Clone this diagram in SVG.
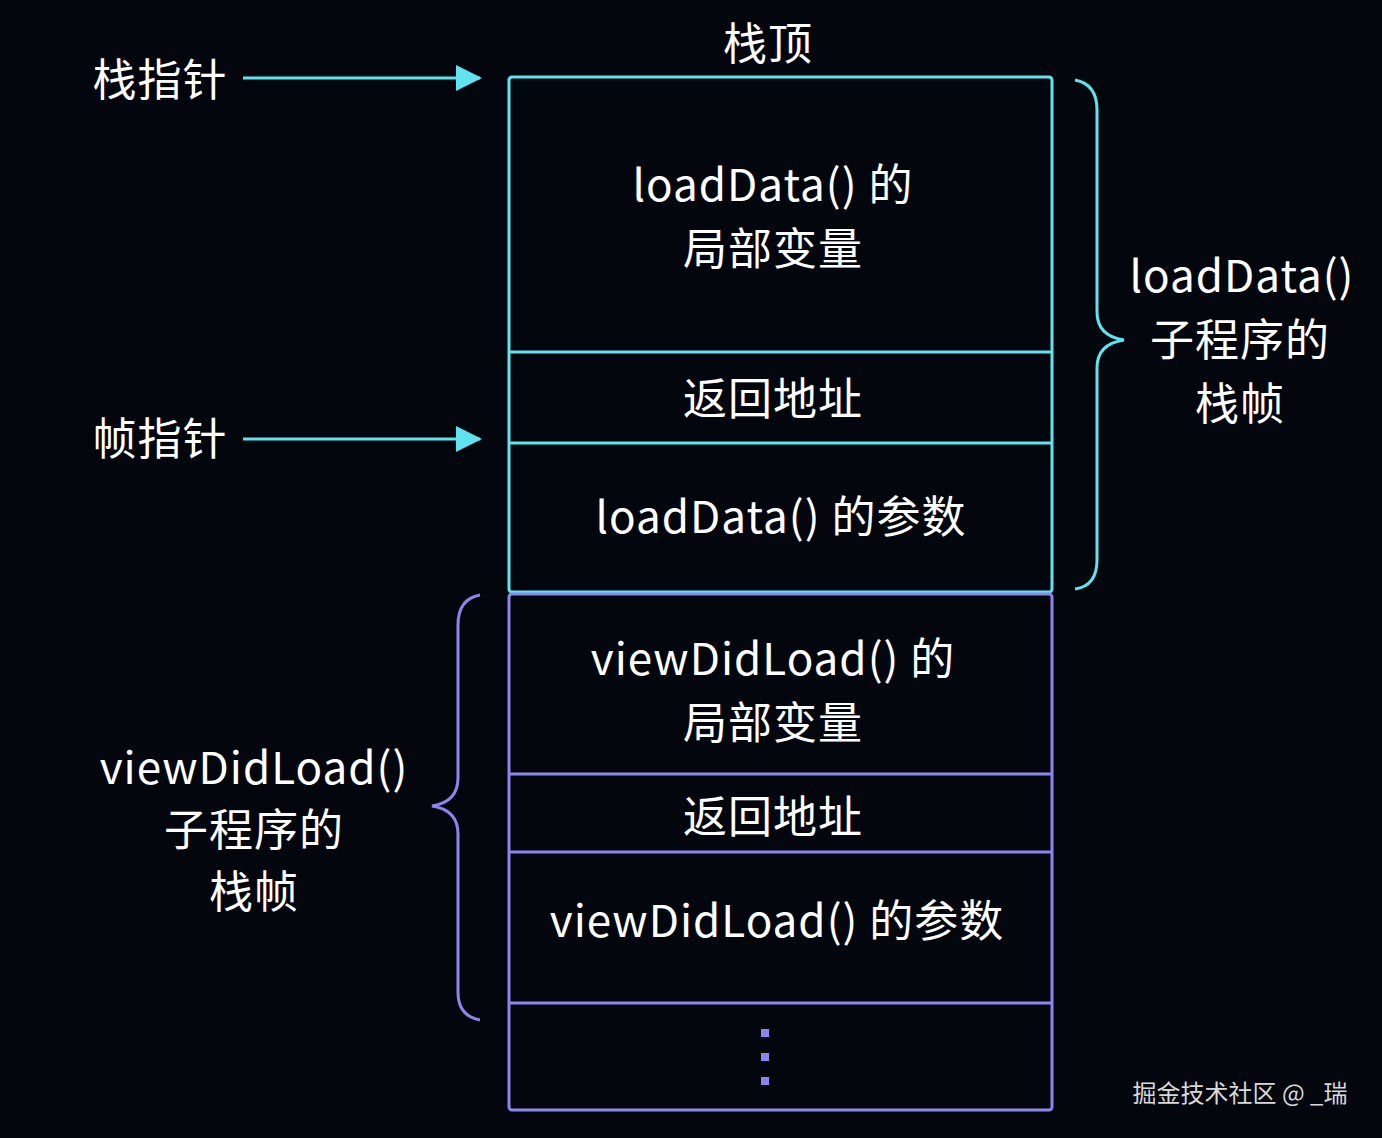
<svg xmlns="http://www.w3.org/2000/svg" width="1382" height="1138" viewBox="0 0 1382 1138">
<style>
text{font-family:"Noto Sans CJK SC","Noto Sans",sans-serif;fill:#ffffff;font-size:44px;text-anchor:middle;letter-spacing:1px}
.c{stroke:#5fe3ee;stroke-width:3;fill:none}
.p{stroke:#8a86ee;stroke-width:3;fill:none}
.wm{font-size:24px;fill:#d8d8d8;letter-spacing:0}
</style>
<defs>
<marker id="ah" markerWidth="26" markerHeight="26" refX="24" refY="13" orient="auto" markerUnits="userSpaceOnUse" viewBox="0 0 26 26"><path d="M0,0 L26,13 L0,26z" fill="#5fe3ee"/></marker>
</defs>
<rect width="1382" height="1138" fill="#04060d"/>
<g id="loadData-frame">
<rect x="509" y="77" width="543" height="515" rx="3" fill="#071a26" class="c"/>
<line x1="509" y1="352" x2="1052" y2="352" class="c"/>
<line x1="509" y1="443" x2="1052" y2="443" class="c"/>
<text x="773" y="201">loadData() 的</text>
<text x="773" y="265">局部变量</text>
<text x="773" y="415">返回地址</text>
<text x="781" y="533">loadData() 的参数</text>
</g>
<g id="viewDidLoad-frame">
<rect x="509" y="594" width="543" height="516" rx="3" fill="#0a0e2c" class="p"/>
<line x1="509" y1="774" x2="1052" y2="774" class="p"/>
<line x1="509" y1="852" x2="1052" y2="852" class="p"/>
<line x1="509" y1="1003" x2="1052" y2="1003" class="p"/>
<text x="773" y="675">viewDidLoad() 的</text>
<text x="773" y="739">局部变量</text>
<text x="773" y="833">返回地址</text>
<text x="777" y="937">viewDidLoad() 的参数</text>
<g fill="#8a86ee"><rect x="761" y="1029" width="8" height="8"/><rect x="761" y="1053" width="8" height="8"/><rect x="761" y="1077" width="8" height="8"/></g>
</g>
<g id="labels">
<text x="768" y="60">栈顶</text>
<text x="160" y="96">栈指针</text>
<text x="160" y="455">帧指针</text>
<text x="1242" y="292">loadData()</text>
<text x="1240" y="356">子程序的</text>
<text x="1240" y="420">栈帧</text>
<text x="254" y="784">viewDidLoad()</text>
<text x="254" y="846">子程序的</text>
<text x="254" y="908">栈帧</text>
<text class="wm" x="1240" y="1102">掘金技术社区 @ _瑞</text>
</g>
<g id="connectors">
<line x1="243" y1="78" x2="480" y2="78" stroke="#5fe3ee" stroke-width="3" marker-end="url(#ah)"/>
<line x1="243" y1="439" x2="480" y2="439" stroke="#5fe3ee" stroke-width="3" marker-end="url(#ah)"/>
<path class="c" d="M1075,80 Q1097,84 1097,110 L1097,312 Q1097,336 1124,340 Q1097,344 1097,368 L1097,560 Q1097,586 1075,589"/>
<path class="p" d="M480,595 Q458,599 458,625 L458,778 Q458,802 432,806 Q458,810 458,834 L458,992 Q458,1016 480,1020"/>
</g>
</svg>
